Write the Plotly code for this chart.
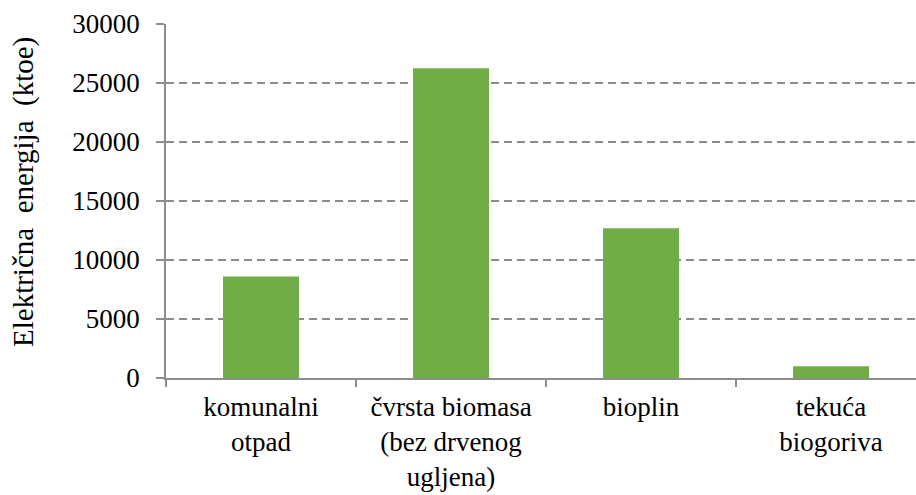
import plotly.graph_objects as go

categories = ["komunalni<br>otpad", "čvrsta biomasa<br>(bez drvenog<br>ugljena)", "bioplin", "tekuća<br>biogoriva"]
values = [8600, 26250, 12700, 1000]
y_ticks = [0, 5000, 10000, 15000, 20000, 25000, 30000]
y_title = "Električna  energija  (ktoe)"

FONT = "Liberation Serif"
AX = "#8c8c8c"

fig = go.Figure(go.Bar(
    x=categories, y=values,
    marker=dict(color="#70AD47", line=dict(width=0)),
    width=0.4,
))

fig.update_layout(
    width=916, height=495,
    margin=dict(l=166, r=0, t=24, b=117),
    paper_bgcolor="white", plot_bgcolor="white",
    showlegend=False,
    font=dict(family=FONT, size=26, color="black"),
    annotations=[dict(
        text=y_title, textangle=-90,
        xref="paper", yref="paper", x=-0.1907, y=0.5254,
        xanchor="center", yanchor="middle", showarrow=False,
        font=dict(family=FONT, size=29, color="black"),
    )],
)
fig.update_xaxes(
    type="category",
    range=[-0.5, 3.447],
    tickson="boundaries",
    ticks="outside", ticklen=7, tickwidth=1.5, tickcolor=AX,
    showline=True, linecolor=AX, linewidth=1.5,
    showgrid=False, zeroline=False,
    tickfont=dict(family=FONT, size=27, color="black"),
    ticklabelstandoff=4,
)
fig.update_yaxes(
    range=[0, 30000],
    tickmode="array", tickvals=y_ticks, ticktext=[str(v) for v in y_ticks],
    ticks="outside", ticklen=8, tickwidth=1.5, tickcolor=AX,
    showline=True, linecolor=AX, linewidth=1.5,
    showgrid=True, gridcolor=AX, gridwidth=1.5, griddash="8px,5px",
    zeroline=False,
    tickfont=dict(family=FONT, size=27, color="black"),
    ticklabelstandoff=11,
)
fig.write_html("out.html", config={"displayModeBar": False},
               post_script="document.body.style.margin='0';document.body.style.padding='0';")
